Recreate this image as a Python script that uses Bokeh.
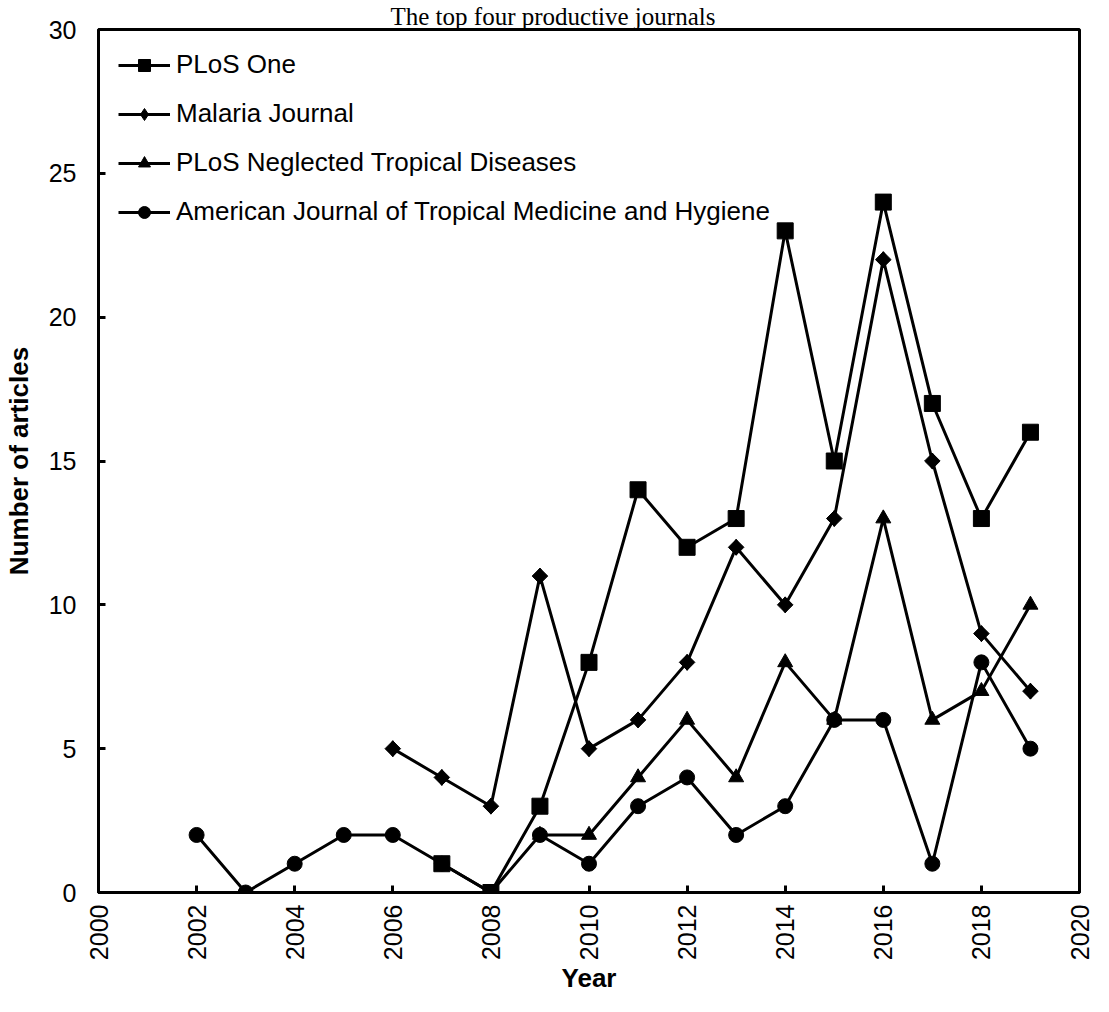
import math
from bokeh.plotting import figure
from bokeh.models import Range1d, FixedTicker, Legend, LegendItem
from bokeh.embed import file_html
from bokeh.resources import INLINE

# ---- data ----
title_text = "The top four productive journals"
x_title = "Year"
y_title = "Number of articles"

years_plos_one = [2007, 2008, 2009, 2010, 2011, 2012, 2013, 2014, 2015, 2016, 2017, 2018, 2019]
plos_one = [1, 0, 3, 8, 14, 12, 13, 23, 15, 24, 17, 13, 16]

years_malaria = [2006, 2007, 2008, 2009, 2010, 2011, 2012, 2013, 2014, 2015, 2016, 2017, 2018, 2019]
malaria = [5, 4, 3, 11, 5, 6, 8, 12, 10, 13, 22, 15, 9, 7]

years_ntd = [2009, 2010, 2011, 2012, 2013, 2014, 2015, 2016, 2017, 2018, 2019]
ntd = [2, 2, 4, 6, 4, 8, 6, 13, 6, 7, 10]

years_ajtmh = [2002, 2003, 2004, 2005, 2006, 2007, 2008, 2009, 2010, 2011, 2012, 2013, 2014, 2015, 2016, 2017, 2018, 2019]
ajtmh = [2, 0, 1, 2, 2, 1, 0, 2, 1, 3, 4, 2, 3, 6, 6, 1, 8, 5]

series_names = ["PLoS One", "Malaria Journal", "PLoS Neglected Tropical Diseases",
                "American Journal of Tropical Medicine and Hygiene"]

x_ticks = [2000, 2002, 2004, 2006, 2008, 2010, 2012, 2014, 2016, 2018, 2020]
y_ticks = [0, 5, 10, 15, 20, 25, 30]

# ---- figure ----
p = figure(width=1093, height=996,
           x_range=Range1d(2000, 2020), y_range=Range1d(0, 30),
           output_backend="svg", toolbar_location=None,
           min_border_left=96, min_border_right=14,
           min_border_top=20, min_border_bottom=100)
p.title.text = title_text
p.title.align = "left"
p.title.offset = 292
p.title.standoff = 0
p.title.text_font = "Liberation Serif"
p.title.text_font_style = "normal"
p.title.text_font_size = "25px"
p.title.text_color = "black"

p.xgrid.visible = False
p.ygrid.visible = False
p.background_fill_color = "white"
p.border_fill_color = "white"
p.outline_line_color = "black"
p.outline_line_width = 3

for ax in (p.xaxis, p.yaxis):
    ax.axis_line_width = 3
    ax.axis_line_color = "black"
    ax.major_tick_line_width = 3
    ax.major_tick_line_color = "black"
    ax.major_tick_in = 7
    ax.major_tick_out = 0
    ax.minor_tick_line_color = None
    ax.major_label_text_font = "Liberation Sans"
    ax.major_label_text_font_size = "25px"
    ax.major_label_text_color = "black"
    ax.axis_label_text_font = "Liberation Sans"
    ax.axis_label_text_font_style = "bold"
    ax.axis_label_text_font_size = "26px"
    ax.axis_label_text_color = "black"

p.xaxis.ticker = FixedTicker(ticks=x_ticks)
p.xaxis.major_label_orientation = math.pi / 2
p.xaxis.major_label_standoff = 12
p.xaxis.axis_label = x_title
p.xaxis.axis_label_standoff = 0
p.xaxis.axis_label_text_line_height = 0.8

p.yaxis.ticker = FixedTicker(ticks=y_ticks)
p.yaxis.major_label_standoff = 22
p.yaxis.axis_label = y_title
p.yaxis.axis_label_standoff = 12

LW = 3
C = "black"
# draw order: NTD, Malaria, AJTMH, PLoS One (squares on top)
l_ntd = p.line(years_ntd, ntd, line_width=LW, line_color=C)
s_ntd = p.scatter(years_ntd, ntd, marker="triangle", size=15, color=C)
l_mal = p.line(years_malaria, malaria, line_width=LW, line_color=C)
s_mal_key = p.scatter(years_malaria, malaria, marker="diamond", size=16, color=C)
s_mal = p.scatter(years_malaria, malaria, marker="square", angle=math.pi / 4, size=11, color=C)
l_aj = p.line(years_ajtmh, ajtmh, line_width=LW, line_color=C)
s_aj = p.scatter(years_ajtmh, ajtmh, marker="circle", size=15, color=C)
l_po = p.line(years_plos_one, plos_one, line_width=LW, line_color=C)
s_po = p.scatter(years_plos_one, plos_one, marker="square", size=16, color=C)

legend = Legend(items=[
    LegendItem(label=series_names[0], renderers=[l_po, s_po]),
    LegendItem(label=series_names[1], renderers=[l_mal, s_mal_key]),
    LegendItem(label=series_names[2], renderers=[l_ntd, s_ntd]),
    LegendItem(label=series_names[3], renderers=[l_aj, s_aj]),
], location="top_left", margin=20, padding=10,
    glyph_width=52, glyph_height=30, label_height=30, label_standoff=6, spacing=18,
    border_line_color=None, background_fill_alpha=0,
    label_text_font="Liberation Sans", label_text_font_size="26px", label_text_color="black")
p.add_layout(legend)

open("out.html", "w").write(file_html(p, INLINE))
